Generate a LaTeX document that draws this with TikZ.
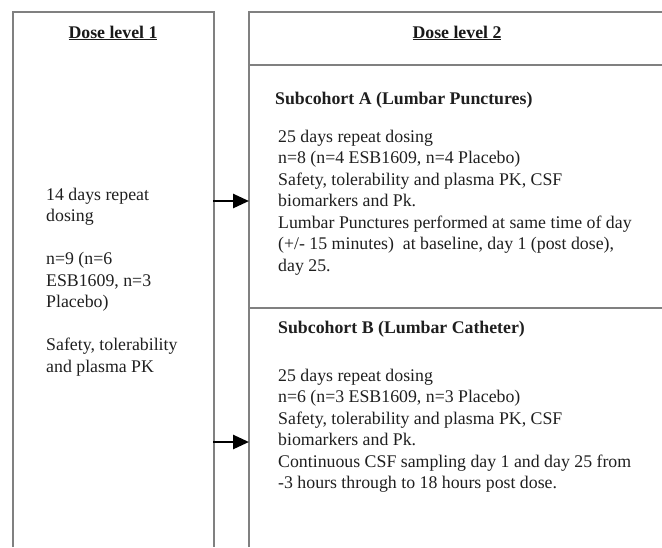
\documentclass[tikz,border=0pt]{standalone}
\usepackage{fontspec}
\setmainfont{Liberation Serif}
\usetikzlibrary{arrows.meta}
\begin{document}
\begin{tikzpicture}[x=1pt,y=-1pt,
  frame/.style={draw=black!50,line width=1.1pt},
  txt/.style={anchor=base west,inner sep=0pt,align=left,text=black!88,
    font=\fontsize{17.8pt}{21.5pt}\selectfont},
  head/.style={anchor=base,inner sep=0pt,text=black!90,
    font=\fontsize{17.8pt}{21.5pt}\selectfont\bfseries},
  sub/.style={txt,font=\fontsize{17.8pt}{21.5pt}\selectfont\bfseries},
  arr/.style={draw=black,line width=2.6pt,-{Triangle[length=16pt,width=14pt]}}]
\useasboundingbox (0,0) rectangle (662,547);
% frames
\draw[frame] (13,547) -- (13,12) -- (214,12) -- (214,547);
\draw[frame] (249,547) -- (249,12) -- (662,12);
\draw[frame] (249,65) -- (662,65);
\draw[frame] (249,308) -- (662,308);
% headings
\node[head] (h1) at (113,38) {\underline{Dose level 1}};
\node[head] (h2) at (457,38) {\underline{Dose level 2}};
% left text (anchored at the baseline of its last line)
\node[txt] (t1) at (46,372) {14 days repeat\\dosing\\[21.5pt]n=9 (n=6\\ESB1609, n=3\\Placebo)\\[21.5pt]Safety, tolerability\\and plasma PK};
% subcohort A
\node[sub] (sa) at (275,104) {Subcohort A (Lumbar Punctures)};
\node[txt] (ta) at (278,271) {25 days repeat dosing\\n=8 (n=4 ESB1609, n=4 Placebo)\\Safety, tolerability and plasma PK, CSF\\biomarkers and Pk.\\Lumbar Punctures performed at same time of day\\(+/- 15 minutes)\ \ at baseline, day 1 (post dose),\\day 25.};
% subcohort B
\node[sub] (sb) at (278,333) {Subcohort B (Lumbar Catheter)};
\node[txt] (tb) at (278,488.5) {25 days repeat dosing\\n=6 (n=3 ESB1609, n=3 Placebo)\\Safety, tolerability and plasma PK, CSF\\biomarkers and Pk.\\Continuous CSF sampling day 1 and day 25 from\\-3 hours through to 18 hours post dose.};
% arrows
\coordinate (a1s) at (213,201);
\coordinate (a1e) at (249,201);
\coordinate (a2s) at (213,442);
\coordinate (a2e) at (249,442);
\draw[arr] (a1s) -- (a1e);
\draw[arr] (a2s) -- (a2e);
\end{tikzpicture}
\end{document}
